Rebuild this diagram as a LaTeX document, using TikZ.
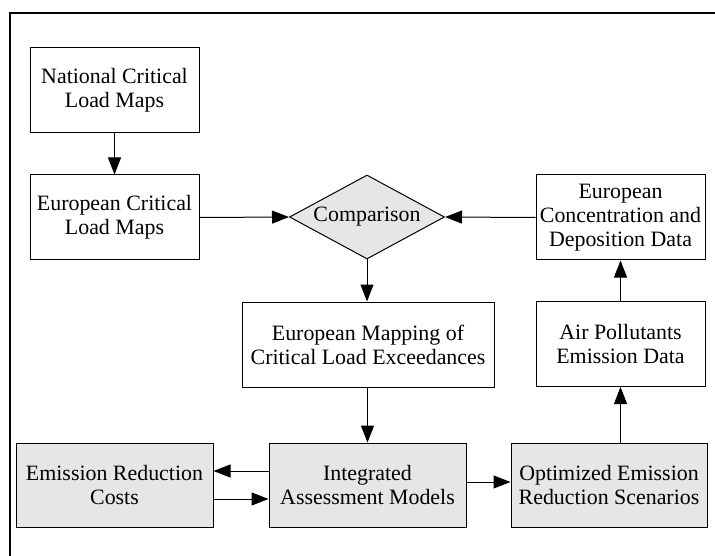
\documentclass[tikz,border=0pt]{standalone}
\usepackage{fontspec}
\setmainfont{Liberation Serif}
\usetikzlibrary{shapes.geometric,arrows.meta}
\definecolor{boxgray}{HTML}{E6E6E6}
\begin{document}
\begin{tikzpicture}[x=1pt,y=-1pt,
  every node/.style={font=\fontsize{21.9}{24}\selectfont, align=center, inner sep=0pt},
  plainbox/.style={draw, line width=1pt, rectangle, fill=white},
  graybox/.style={draw, line width=1pt, rectangle, fill=boxgray},
  decision/.style={draw, line width=1pt, diamond, aspect=1.85, fill=boxgray, minimum width=155pt, minimum height=84pt},
  arr/.style={draw, line width=1pt, -{Triangle[length=17pt,width=13pt]}}]
\useasboundingbox (0,0) rectangle (715,556);
\draw[line width=1.1pt] (10,560) -- (10,13) -- (720,13);

\node[plainbox, minimum width=169pt, minimum height=85pt] (ncl) at (114.5,90.5) {National Critical\\Load Maps};
\node[plainbox, minimum width=169pt, minimum height=85pt] (ecl) at (114.5,217.5) {European Critical\\Load Maps};
\node[decision] (comp) at (367,217) {};
\node at (367,217) {Comparison};
\node[plainbox, minimum width=169pt, minimum height=85pt] (ecd) at (620.5,217.5) {European\\Concentration and\\Deposition Data};
\node[plainbox, minimum width=252pt, minimum height=85pt] (map) at (368,344.5) {European Mapping of\\Critical Load Exceedances};
\node[plainbox, minimum width=169pt, minimum height=85pt] (air) at (620.5,344) {Air Pollutants\\Emission Data};
\node[graybox, minimum width=197pt, minimum height=84pt] (erc) at (114.5,485) {Emission Reduction\\Costs};
\node[graybox, minimum width=197pt, minimum height=84pt] (iam) at (367.5,485) {Integrated\\Assessment Models};
\node[graybox, minimum width=196pt, minimum height=84pt] (opt) at (609,485) {Optimized Emission\\Reduction Scenarios};

\draw[arr] (ncl.south) -- (ecl.north);
\draw[arr] (ecl.east) -- (comp.west);
\draw[arr] (ecd.west) -- (comp.east);
\draw[arr] (comp.south) -- (comp.south |- map.north);
\draw[arr] (map.south -| iam) -- (iam.north);
\draw[arr] ([yshift=14pt]iam.west) -- ([yshift=14pt]erc.east);
\draw[arr] ([yshift=-14pt]erc.east) -- ([yshift=-14pt]iam.west);
\draw[arr] ([yshift=3pt]iam.east) -- ([yshift=3pt]opt.west);
\draw[arr] (opt.north -| air) -- (air.south);
\draw[arr] (air.north) -- (ecd.south);
\end{tikzpicture}
\end{document}
